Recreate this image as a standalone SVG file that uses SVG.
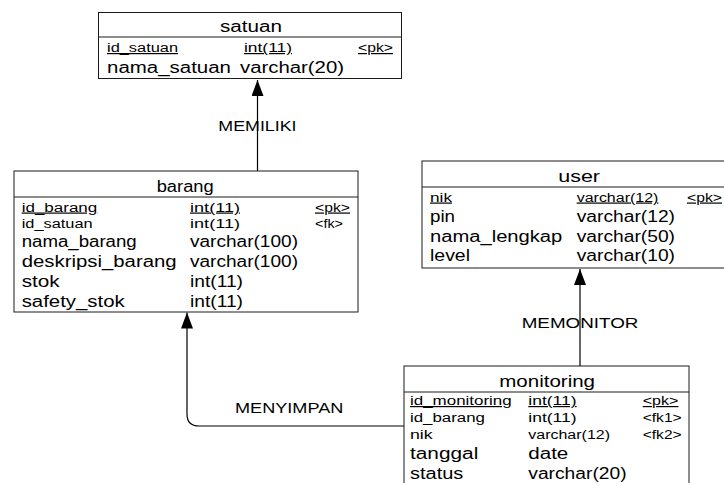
<svg xmlns="http://www.w3.org/2000/svg" width="724" height="483" viewBox="0 0 724 483">
<style>
text{font-family:"Liberation Sans",Arial,sans-serif;fill:#000}
.t{font-size:16px}
.l{font-size:16px}
.s{font-size:12px}
.lbl{font-size:15px}
.u{text-decoration:underline}
.box{fill:#fff;stroke:#1a1a1a;stroke-width:1}
.div{stroke:#1a1a1a;stroke-width:1}
.con{fill:none;stroke:#000;stroke-width:1.2}
</style>
<defs>
<marker id="arr" viewBox="0 0 16 12" markerWidth="16" markerHeight="12" refX="16" refY="6" orient="auto" markerUnits="userSpaceOnUse">
<path d="M0,0 L16,6 L0,12 z" fill="#000"/>
</marker>
</defs>
<rect width="724" height="483" fill="#fff"/>

<g id="connectors">
<path class="con" d="M257.5,171 V80" marker-end="url(#arr)"/>
<path class="con" d="M580,366 V269" marker-end="url(#arr)"/>
<path class="con" d="M404,426 H199 Q187,426 187,414 V312.5" marker-end="url(#arr)"/>
<text class="lbl" x="218.3" y="131" textLength="78.3" lengthAdjust="spacingAndGlyphs">MEMILIKI</text>
<text class="lbl" x="521.7" y="328" textLength="116.7" lengthAdjust="spacingAndGlyphs">MEMONITOR</text>
<text class="lbl" x="235" y="413" textLength="108.3" lengthAdjust="spacingAndGlyphs">MENYIMPAN</text>
</g>

<g id="satuan">
<rect class="box" x="98.5" y="12.5" width="303" height="66"/>
<line class="div" x1="98.5" y1="37" x2="401.5" y2="37"/>
<text class="t" x="220" y="32" textLength="62" lengthAdjust="spacingAndGlyphs">satuan</text>
<text class="s u" x="107" y="52" textLength="71" lengthAdjust="spacingAndGlyphs">id_satuan</text>
<text class="s u" x="244" y="52" textLength="48" lengthAdjust="spacingAndGlyphs">int(11)</text>
<text class="s u" x="358" y="52" textLength="35" lengthAdjust="spacingAndGlyphs">&lt;pk&gt;</text>
<text class="l" x="107" y="73" textLength="124" lengthAdjust="spacingAndGlyphs">nama_satuan</text>
<text class="l" x="240" y="73" textLength="104" lengthAdjust="spacingAndGlyphs">varchar(20)</text>
</g>

<g id="barang">
<rect class="box" x="14" y="171" width="344" height="141"/>
<line class="div" x1="14" y1="197" x2="358" y2="197"/>
<text class="t" x="156.7" y="191.5" textLength="57" lengthAdjust="spacingAndGlyphs">barang</text>
<text class="s u" x="21.7" y="211.5" textLength="75.6" lengthAdjust="spacingAndGlyphs">id_barang</text>
<text class="s u" x="190" y="211.5" textLength="50" lengthAdjust="spacingAndGlyphs">int(11)</text>
<text class="s u" x="315" y="211.5" textLength="35" lengthAdjust="spacingAndGlyphs">&lt;pk&gt;</text>
<text class="s" x="21.7" y="227.5" textLength="71" lengthAdjust="spacingAndGlyphs">id_satuan</text>
<text class="s" x="190" y="227.5" textLength="50" lengthAdjust="spacingAndGlyphs">int(11)</text>
<text class="s" x="315" y="227.5" textLength="28" lengthAdjust="spacingAndGlyphs">&lt;fk&gt;</text>
<text class="l" x="21.7" y="246.7" textLength="115" lengthAdjust="spacingAndGlyphs">nama_barang</text>
<text class="l" x="190" y="246.7" textLength="108" lengthAdjust="spacingAndGlyphs">varchar(100)</text>
<text class="l" x="21.7" y="266.7" textLength="155" lengthAdjust="spacingAndGlyphs">deskripsi_barang</text>
<text class="l" x="190" y="266.7" textLength="108" lengthAdjust="spacingAndGlyphs">varchar(100)</text>
<text class="l" x="21.7" y="286.7" textLength="38" lengthAdjust="spacingAndGlyphs">stok</text>
<text class="l" x="190" y="286.7" textLength="53" lengthAdjust="spacingAndGlyphs">int(11)</text>
<text class="l" x="21.7" y="306.5" textLength="103" lengthAdjust="spacingAndGlyphs">safety_stok</text>
<text class="l" x="190" y="306.5" textLength="53" lengthAdjust="spacingAndGlyphs">int(11)</text>
</g>

<g id="user">
<rect class="box" x="422" y="161" width="314" height="107"/>
<line class="div" x1="422" y1="187" x2="736" y2="187"/>
<text class="t" x="558.3" y="181.5" textLength="41.7" lengthAdjust="spacingAndGlyphs">user</text>
<text class="s u" x="430" y="201.5" textLength="22" lengthAdjust="spacingAndGlyphs">nik</text>
<text class="s u" x="576.7" y="201.5" textLength="81.7" lengthAdjust="spacingAndGlyphs">varchar(12)</text>
<text class="s u" x="687" y="201.5" textLength="35" lengthAdjust="spacingAndGlyphs">&lt;pk&gt;</text>
<text class="l" x="430" y="221.5" textLength="25" lengthAdjust="spacingAndGlyphs">pin</text>
<text class="l" x="576.7" y="221.5" textLength="98.3" lengthAdjust="spacingAndGlyphs">varchar(12)</text>
<text class="l" x="430" y="241.5" textLength="132.3" lengthAdjust="spacingAndGlyphs">nama_lengkap</text>
<text class="l" x="576.7" y="241.5" textLength="98.3" lengthAdjust="spacingAndGlyphs">varchar(50)</text>
<text class="l" x="430" y="261" textLength="40" lengthAdjust="spacingAndGlyphs">level</text>
<text class="l" x="576.7" y="261" textLength="98.3" lengthAdjust="spacingAndGlyphs">varchar(10)</text>
</g>

<g id="monitoring">
<rect class="box" x="404" y="366" width="285" height="130"/>
<line class="div" x1="404" y1="392" x2="689" y2="392"/>
<text class="t" x="499.3" y="386.5" textLength="95.7" lengthAdjust="spacingAndGlyphs">monitoring</text>
<text class="s u" x="410" y="405" textLength="101.7" lengthAdjust="spacingAndGlyphs">id_monitoring</text>
<text class="s u" x="528.3" y="405" textLength="48.3" lengthAdjust="spacingAndGlyphs">int(11)</text>
<text class="s u" x="642.7" y="405" textLength="35.7" lengthAdjust="spacingAndGlyphs">&lt;pk&gt;</text>
<text class="s" x="410" y="421.5" textLength="75" lengthAdjust="spacingAndGlyphs">id_barang</text>
<text class="s" x="528.3" y="421.5" textLength="48.3" lengthAdjust="spacingAndGlyphs">int(11)</text>
<text class="s" x="642.7" y="421.5" textLength="39" lengthAdjust="spacingAndGlyphs">&lt;fk1&gt;</text>
<text class="s" x="410" y="438.5" textLength="22.7" lengthAdjust="spacingAndGlyphs">nik</text>
<text class="s" x="528.3" y="438.5" textLength="81.7" lengthAdjust="spacingAndGlyphs">varchar(12)</text>
<text class="s" x="642.7" y="438.5" textLength="39" lengthAdjust="spacingAndGlyphs">&lt;fk2&gt;</text>
<text class="l" x="410" y="459" textLength="68.3" lengthAdjust="spacingAndGlyphs">tanggal</text>
<text class="l" x="528.3" y="459" textLength="40" lengthAdjust="spacingAndGlyphs">date</text>
<text class="l" x="410" y="479" textLength="53.3" lengthAdjust="spacingAndGlyphs">status</text>
<text class="l" x="528.3" y="479" textLength="98.3" lengthAdjust="spacingAndGlyphs">varchar(20)</text>
</g>
</svg>
